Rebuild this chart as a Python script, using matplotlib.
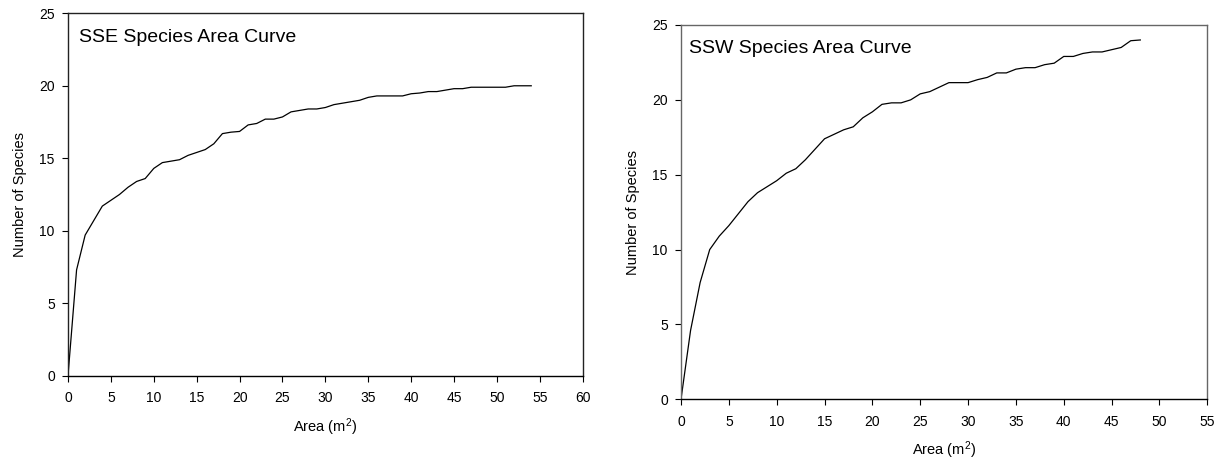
import matplotlib
matplotlib.use("Agg")
import matplotlib.pyplot as plt

plt.rcParams['font.family'] = ['Liberation Sans', 'DejaVu Sans']
plt.rcParams['mathtext.fontset'] = 'custom'
plt.rcParams['mathtext.rm'] = 'Liberation Sans'
plt.rcParams['mathtext.it'] = 'Liberation Sans'
plt.rcParams['mathtext.bf'] = 'Liberation Sans:bold'

# SSE panel data
sse_area = list(range(0, 55))
sse_species = [0, 7.3, 9.7, 10.7, 11.7, 12.1, 12.5, 13.0, 13.4, 13.6,
               14.3, 14.7, 14.8, 14.9, 15.2, 15.4, 15.6, 16.0, 16.7, 16.8,
               16.85, 17.3, 17.4, 17.7, 17.7, 17.85, 18.2, 18.3, 18.4, 18.4,
               18.5, 18.7, 18.8, 18.9, 19.0, 19.2, 19.3, 19.3, 19.3, 19.3,
               19.45, 19.5, 19.6, 19.6, 19.7, 19.8, 19.8, 19.9, 19.9, 19.9,
               19.9, 19.9, 20.0, 20.0, 20.0]

# SSW panel data
ssw_area = list(range(0, 49))
ssw_species = [0, 4.6, 7.8, 10.0, 10.9, 11.6, 12.4, 13.2, 13.8, 14.2,
               14.6, 15.1, 15.4, 16.0, 16.7, 17.4, 17.7, 18.0, 18.2, 18.8,
               19.2, 19.7, 19.8, 19.8, 20.0, 20.4, 20.55, 20.85, 21.15, 21.15,
               21.15, 21.35, 21.5, 21.8, 21.8, 22.05, 22.15, 22.15, 22.35, 22.45,
               22.9, 22.9, 23.1, 23.2, 23.2, 23.35, 23.5, 23.95, 24.0]

sse_xticks = list(range(0, 61, 5))
ssw_xticks = list(range(0, 56, 5))
yticks = list(range(0, 26, 5))

fig = plt.figure(figsize=(12.2, 4.66), dpi=100)

ax1 = fig.add_axes([68/1220, 1-375.7/466, 514.7/1220, 362.4/466])
ax2 = fig.add_axes([681/1220, 1-399.3/466, 526.3/1220, 374.3/466])

def style(ax, area, species, xticks, xmax, title, tx, ty, frame_color):
    ax.plot(area, species, color='black', lw=0.9)
    ax.set_xlim(0, xmax)
    ax.set_ylim(0, 25)
    ax.set_xticks(xticks)
    ax.set_yticks(yticks)
    ax.tick_params(direction='out', length=4.5, width=0.8, pad=5,
                   labelsize=10, colors='black')
    ax.tick_params(axis='x', pad=6.5)
    for s in ['top', 'right', 'left']:
        ax.spines[s].set_color(frame_color)
    ax.spines['bottom'].set_color('black')
    for s in ax.spines.values():
        s.set_linewidth(1.0)
    ax.set_xlabel('Area (m$^2$)', fontsize=10.5, labelpad=8)
    ax.set_ylabel('Number of Species', fontsize=10.5, labelpad=9)
    ax.text(tx, ty, title, transform=ax.transAxes, fontsize=14,
            ha='left', va='baseline')

style(ax1, sse_area, sse_species, sse_xticks, 60, 'SSE Species Area Curve',
      0.0214, 0.921, '#222222')
style(ax2, ssw_area, ssw_species, ssw_xticks, 55, 'SSW Species Area Curve',
      0.0152, 0.925, '#666666')

fig.savefig('out.png', dpi=100)
